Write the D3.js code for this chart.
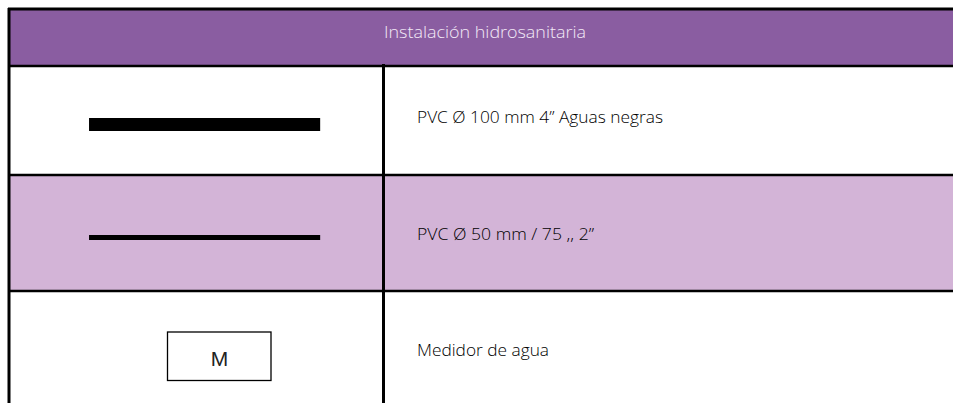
<!DOCTYPE html>
<html><head><meta charset="utf-8">
<script src="https://cdn.jsdelivr.net/npm/d3@7"></script>
<style>html,body{margin:0;padding:0;background:#fff;overflow:hidden}</style>
</head><body>
<script>
const title = "Instalación hidrosanitaria";
const labels = ["PVC Ø 100 mm 4” Aguas negras", "PVC Ø 50 mm / 75 ,, 2”", "Medidor de agua"];
const symbols = ["thick", "thin", "meter"];
const meterText = "M";

const W = 953, H = 403;
const svg = d3.select("body").append("svg").attr("width", W).attr("height", H);

const rowTop = d3.scaleOrdinal().domain([0,1,2]).range([66, 175, 291]);
const rowBottom = d3.scaleOrdinal().domain([0,1,2]).range([175, 291, 410]);
const rowFill = d3.scaleOrdinal().domain([0,1,2]).range(["#ffffff", "#d3b4d7", "#ffffff"]);
const textY = d3.scaleOrdinal().domain([0,1,2]).range([123, 240, 356]);
const textW = d3.scaleOrdinal().domain([0,1,2]).range([246, 177, 132]);
const x = d3.scaleLinear().domain([0, 1]).range([9, 383]); // symbol column

const rows = labels.map((l, i) => ({i, label: l, sym: symbols[i]}));

// header
svg.append("rect").attr("x", 9).attr("y", 9).attr("width", W).attr("height", 57).attr("fill", "#8a5da1");
svg.append("text").attr("x", 384).attr("y", 37.5)
  .attr("font-family", "Open Sans").attr("font-size", 15.5).attr("font-weight", 300)
  .attr("textLength", 202).attr("lengthAdjust", "spacingAndGlyphs")
  .attr("fill", "#f3e9f7").text(title);

// rows
const g = svg.selectAll("g.row").data(rows).join("g").attr("class", "row");
g.append("rect").attr("x", 9).attr("y", d => rowTop(d.i)).attr("width", W)
  .attr("height", d => rowBottom(d.i) - rowTop(d.i)).attr("fill", d => rowFill(d.i));
g.append("text").attr("x", 417).attr("y", d => textY(d.i))
  .attr("font-family", "Open Sans").attr("font-size", 15.5).attr("font-weight", 300)
  .attr("textLength", d => textW(d.i)).attr("lengthAdjust", "spacingAndGlyphs")
  .attr("fill", "#000").text(d => d.label);

// symbols
g.filter(d => d.sym === "thick").append("rect")
  .attr("x", x(0.214)).attr("y", 118).attr("width", x(0.832) - x(0.214)).attr("height", 13).attr("fill", "#000");
g.filter(d => d.sym === "thin").append("rect")
  .attr("x", x(0.214)).attr("y", 235).attr("width", x(0.832) - x(0.214)).attr("height", 5).attr("fill", "#000");
const m = g.filter(d => d.sym === "meter");
m.append("rect").attr("x", 167.5).attr("y", 332).attr("width", 103.5).attr("height", 48.5)
  .attr("fill", "#fff").attr("stroke", "#000").attr("stroke-width", 1.3);
m.append("text").attr("x", 219.5).attr("y", 366).attr("text-anchor", "middle")
  .attr("font-family", "Liberation Sans").attr("font-size", 21).attr("fill", "#222").text(meterText);

// grid lines
const line = (x1, y1, x2, y2, w) => svg.append("line").attr("x1", x1).attr("y1", y1).attr("x2", x2).attr("y2", y2)
  .attr("stroke", "#000").attr("stroke-width", w);
line(8, 9, W, 9, 3);
line(9, 8, 9, H, 3);
line(8, 66, W, 66, 2.5);
line(8, 175, W, 175, 2.5);
line(8, 291, W, 291, 2.5);
line(383.5, 64, 383.5, H, 3);
</script>
</body></html>
